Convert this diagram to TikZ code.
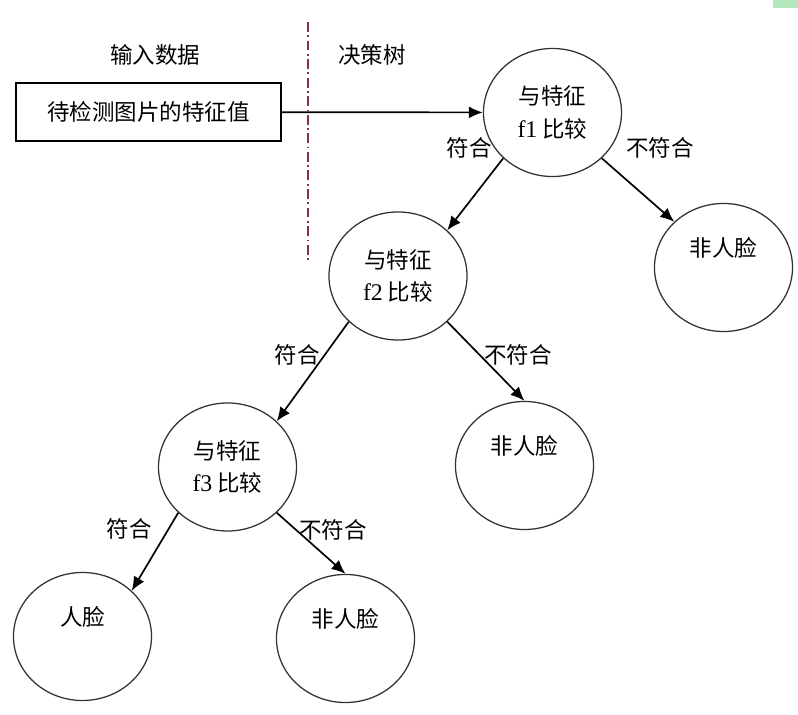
\documentclass[tikz,border=0pt]{standalone}
\usepackage{fontspec}
\setmainfont{Liberation Serif}
\newfontfamily\cjk{Noto Sans CJK SC}
\usetikzlibrary{arrows.meta,shapes.geometric}
\definecolor{divcolor}{RGB}{130,50,60}
\definecolor{cornergreen}{RGB}{182,232,190}

\begin{document}
\begin{tikzpicture}[x=0.025cm,y=-0.025cm,>={Latex[length=3.5mm,width=3mm]},
    every node/.style={font=\cjk\fontsize{16}{23}\selectfont},
    test/.style={draw=black!80,line width=0.9pt,ellipse,minimum width=3.45cm,minimum height=3.2cm,align=center,inner sep=1pt},
    leaf/.style={test,text height=12pt,text depth=28pt},
    edge/.style={->,line width=1.2pt}]
    \useasboundingbox (0,0) rectangle (798,715);
    \fill[cornergreen] (773,0) rectangle (798,8);
    % left part: input
    \node (inlbl) at (155,55) {输入数据};
    \node[draw,line width=0.9pt,minimum width=6.62cm,minimum height=1.45cm] (img) at (148.5,112) {待检测图片的特征值};
    % divider
    \coordinate (divtop) at (308,22);
    \coordinate (divbot) at (308,263);
    \draw[divcolor,line width=0.9pt,dash pattern=on 7pt off 2.5pt on 1.2pt off 2.5pt] (divtop) -- (divbot);
    % right part: the tree
    \node (treelbl) at (372,55) {决策树};
    \node[test] (f1) at (552.5,112.5) {与特征\\{\rmfamily\fontsize{17}{23}\selectfont f1} 比较};
    \node[test] (f2) at (398,276) {与特征\\{\rmfamily\fontsize{17}{23}\selectfont f2} 比较};
    \node[test] (f3) at (227.5,467) {与特征\\{\rmfamily\fontsize{17}{23}\selectfont f3} 比较};
    \node[leaf] (no1) at (723.5,267.5) {非人脸};
    \node[leaf] (no2) at (524.5,465.5) {非人脸};
    \node[leaf] (face) at (82.5,636.5) {人脸};
    \node[leaf] (no3) at (345.5,638.5) {非人脸};
    \draw[edge] (img) -- (f1);
    \draw[edge] (f1.south west) -- (f2.north east);
    \draw[edge] (f1.south east) -- (no1.north west);
    \draw[edge] (f2.south west) -- (f3.north east);
    \draw[edge] (f2.south east) -- (no2.north);
    \draw[edge] (f3.south west) -- (face.north east);
    \draw[edge] (f3.south east) -- (no3.north);
    \node (yes1) at (469,148) {符合};
    \node (fail1) at (660,148) {不符合};
    \node (yes2) at (297,355) {符合};
    \node (fail2) at (518,355) {不符合};
    \node (yes3) at (129,529) {符合};
    \node (fail3) at (333,530) {不符合};
  \end{tikzpicture}
\end{document}
